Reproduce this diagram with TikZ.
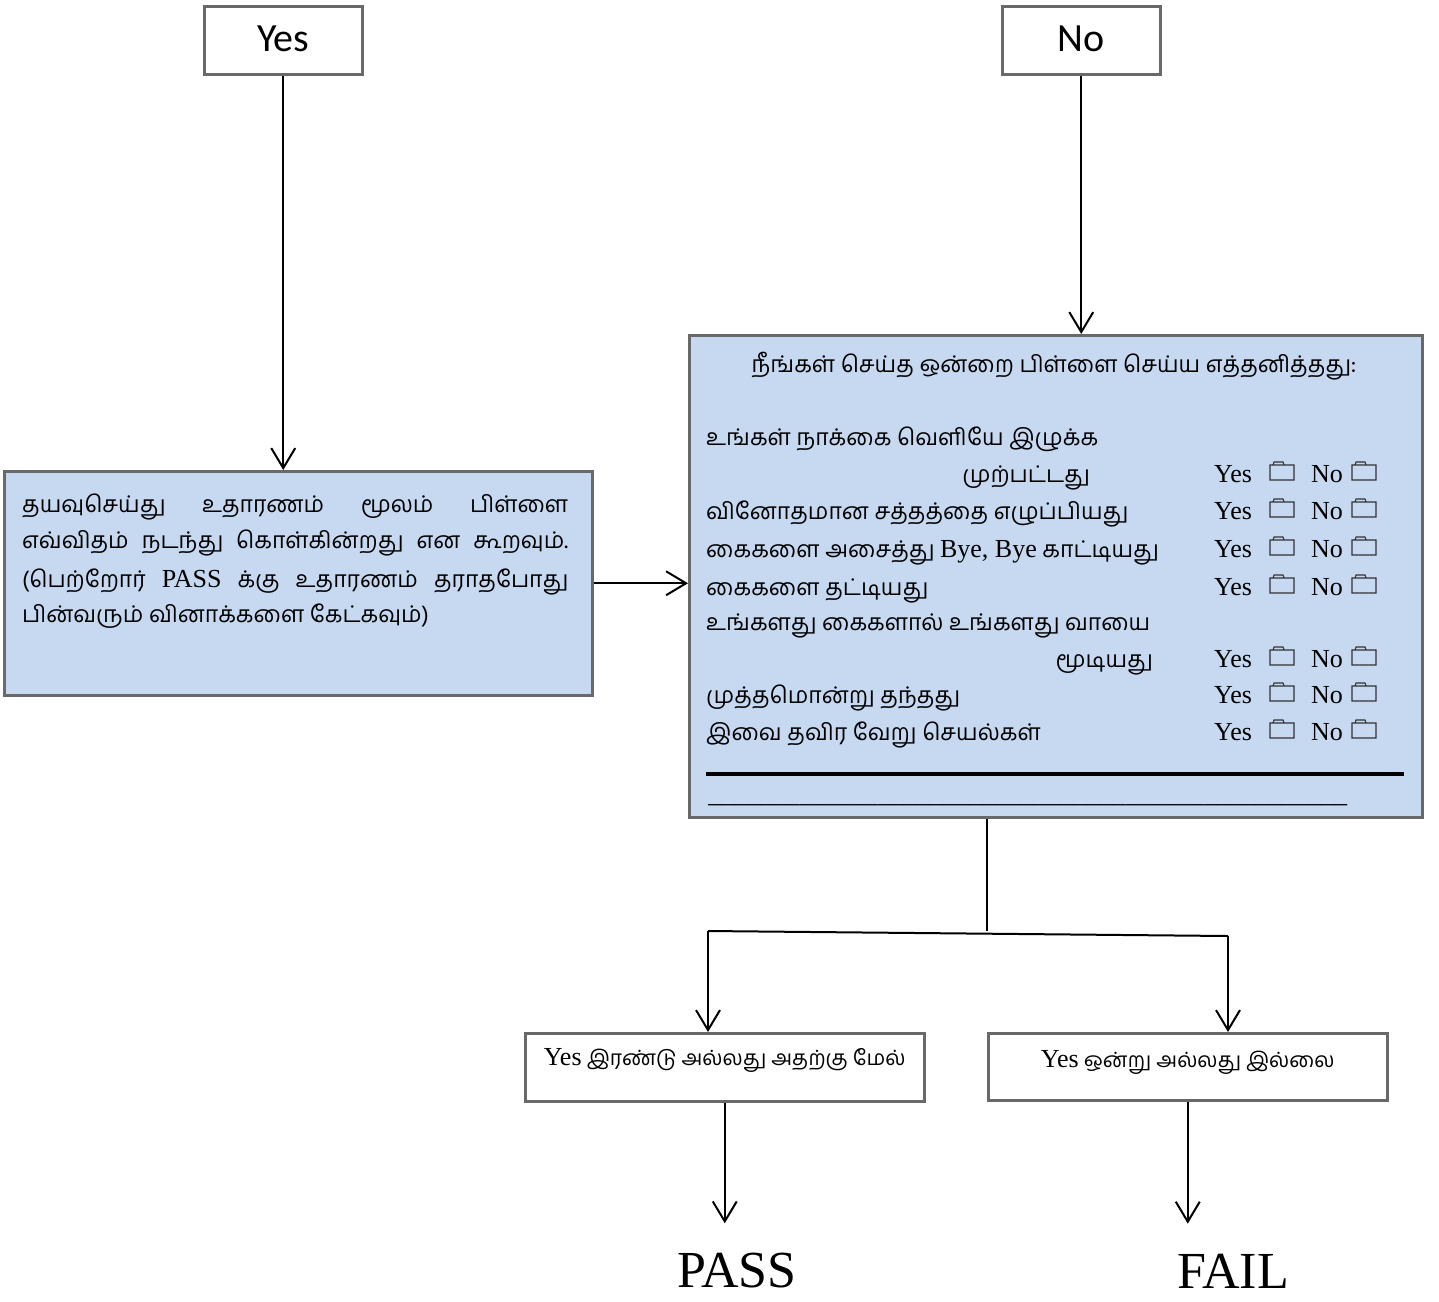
\documentclass[tikz,border=0pt]{standalone}
\usepackage{fontspec}
\setmainfont{Liberation Serif}
\newfontfamily\tamil[Script=Tamil]{Hind Madurai}
\newfontfamily\calib{Carlito}
\usetikzlibrary{arrows.meta,positioning,calc}
\definecolor{boxblue}{RGB}{198,217,241}
\definecolor{boxgray}{RGB}{105,105,105}
\newcommand\lat[1]{{\rmfamily\fontsize{26}{30}\selectfont #1}}

\begin{document}
\begin{tikzpicture}[x=1pt, y=-1pt,
	>={Straight Barb[length=20pt,width=24pt]},
	flowbox/.style={draw=boxgray, line width=2.5pt, fill=white, inner sep=0pt, anchor=north west},
	bluebox/.style={flowbox, fill=boxblue},
	link/.style={line width=2pt},
	tam/.style={inner sep=0pt, font=\tamil\fontsize{23}{37}\selectfont},
	small/.style={inner sep=0pt, font=\tamil\fontsize{21}{30}\selectfont},
	ans/.style={inner sep=0pt, font=\fontsize{26}{30}\selectfont},
	folder/.style={draw=black!80, line width=1.1pt}]
	\useasboundingbox (0,0) rectangle (1439,1301);

	\node[flowbox, minimum width=158pt, minimum height=68pt, text depth=4pt, font=\calib\fontsize{40}{44}\selectfont] (yes) at (203,5) {Yes};
	\node[flowbox, minimum width=158pt, minimum height=68pt, text depth=4pt, font=\calib\fontsize{40}{44}\selectfont] (no) at (1001,5) {No};
	\node[bluebox, minimum width=588pt, minimum height=224pt] (help) at (3,470) {};
	\node[bluebox, minimum width=733pt, minimum height=482pt] (info) at (688,334) {};
	\node[flowbox, minimum width=399pt, minimum height=68pt] (two) at (524,1032) {};
	\node[flowbox, minimum width=399pt, minimum height=67pt] (one) at (987,1032) {};

	\node[tam, anchor=base west] (help1) at (22,512) {\makebox[546pt][s]{தயவுசெய்து உதாரணம் மூலம் பிள்ளை}};
	\node[tam, anchor=base west] (help2) at (22,548) {\makebox[546pt][s]{எவ்விதம் நடந்து கொள்கின்றது என கூறவும்.}};
	\node[tam, anchor=base west] (help3) at (22,587) {\makebox[546pt][s]{(பெற்றோர் \lat{PASS} க்கு உதாரணம் தராதபோது}};
	\node[tam, anchor=base west] (help4) at (22,622) {பின்வரும் வினாக்களை கேட்கவும்)};

	\node[tam, anchor=base] (title) at (1054,372) {நீங்கள் செய்த ஒன்றை பிள்ளை செய்ய எத்தனித்தது:};
	\node[tam, anchor=base west] (act1) at (706,445) {உங்கள் நாக்கை வெளியே இழுக்க};
	\node[tam, anchor=base east] (act1b) at (1090,482) {முற்பட்டது};
	\node[tam, anchor=base west] (act2) at (706,519) {வினோதமான சத்தத்தை எழுப்பியது};
	\node[tam, anchor=base west] (act3) at (706,557) {கைகளை அசைத்து \lat{Bye, Bye} காட்டியது};
	\node[tam, anchor=base west] (act4) at (706,595) {கைகளை தட்டியது};
	\node[tam, anchor=base west] (act5) at (706,630) {உங்களது கைகளால் உங்களது வாயை};
	\node[tam, anchor=base east] (act5b) at (1153,667) {மூடியது};
	\node[tam, anchor=base west] (act6) at (706,703) {முத்தமொன்று தந்தது};
	\node[tam, anchor=base west] (act7) at (706,740) {இவை தவிர வேறு செயல்கள்};
	\foreach \r in {472,509,547,585,657,693,730} {
		\node[ans, anchor=base west] (yes\r) at (1214,\r+10) {Yes};
		\node[ans, anchor=base west] (no\r) at (1311,\r+10) {No};
		\draw[folder] (1270,\r+8) rectangle (1294,\r-7) (1273,\r-7) -- (1274,\r-10) -- (1283,\r-10) -- (1284,\r-7);
		\draw[folder] (1352,\r+8) rectangle (1376,\r-7) (1355,\r-7) -- (1356,\r-10) -- (1365,\r-10) -- (1366,\r-7);
	}
	\draw[line width=4.5pt] (706,774) -- (1404,774);
	\node[ans, anchor=base west] (blank) at (708,802) {\makebox[639pt]{\xleaders\hbox{\_}\hfill}};

	\node[small, anchor=base] (twotext) at ($(two.north)+(0,33)$) {\lat{Yes} இரண்டு அல்லது அதற்கு மேல்};
	\node[small, anchor=base] (onetext) at ($(one.north)+(0,35)$) {\lat{Yes} ஒன்று அல்லது இல்லை};
	\node[inner sep=0pt, font=\fontsize{52}{56}\selectfont] (pass) at (737,1271) {PASS};
	\node[inner sep=0pt, font=\fontsize{52}{56}\selectfont] (fail) at (1233,1271) {FAIL};

	\draw[link,->] (yes.south) -- (yes.south |- help.north);
	\draw[link,->] (no.south) -- (no.south |- info.north);
	\draw[link,->] (help.east) -- (help.east -| info.west);
	\coordinate (split) at (987,931);
	\coordinate (lsplit) at (708,931);
	\coordinate (rsplit) at (1228,936);
	\draw[link] (info.south -| split) -- (split);
	\draw[link] (lsplit) -- (rsplit);
	\draw[link,->] (lsplit) -- (lsplit |- two.north);
	\draw[link,->] (rsplit) -- (rsplit |- one.north);
	\draw[link,->, shorten >=30pt] (two.south) -- (two.south |- pass.north);
	\draw[link,->, shorten >=30pt] (one.south) -- (one.south |- fail.north);
\end{tikzpicture}
\end{document}
